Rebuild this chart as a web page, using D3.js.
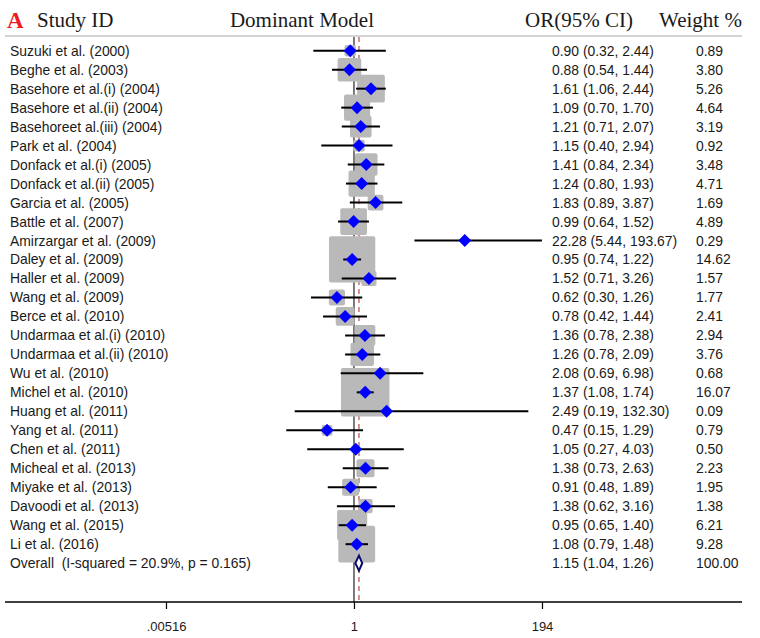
<!DOCTYPE html>
<html lang="en">
<head>
<meta charset="utf-8">
<script src="https://cdn.jsdelivr.net/npm/d3@7"></script>
<style>
body{margin:0;background:#fff;}
svg{display:block;}
</style>
</head>
<body>
<div id="chart"></div>
<script>
// study rows, top to bottom
const studies = ["Suzuki et al. (2000)","Beghe et al. (2003)","Basehore et al.(i) (2004)","Basehore et al.(ii) (2004)",
"Basehoreet al.(iii) (2004)","Park et al. (2004)","Donfack et al.(i) (2005)","Donfack et al.(ii) (2005)",
"Garcia et al. (2005)","Battle et al. (2007)","Amirzargar et al. (2009)","Daley et al. (2009)","Haller et al. (2009)",
"Wang et al. (2009)","Berce et al. (2010)","Undarmaa et al.(i) (2010)","Undarmaa et al.(ii) (2010)","Wu et al. (2010)",
"Michel et al. (2010)","Huang et al. (2011)","Yang et al. (2011)","Chen et al. (2011)","Micheal et al. (2013)",
"Miyake et al. (2013)","Davoodi et al. (2013)","Wang et al. (2015)","Li et al. (2016)"]
const or = [0.90,0.88,1.61,1.09,1.21,1.15,1.41,1.24,1.83,0.99,22.28,0.95,1.52,0.62,0.78,1.36,1.26,2.08,1.37,2.49,0.47,1.05,1.38,0.91,1.38,0.95,1.08]
const lo = [0.32,0.54,1.06,0.70,0.71,0.40,0.84,0.80,0.89,0.64,5.44,0.74,0.71,0.30,0.42,0.78,0.78,0.69,1.08,0.19,0.15,0.27,0.73,0.48,0.62,0.65,0.79]
const hi = [2.44,1.44,2.44,1.70,2.07,2.94,2.34,1.93,3.87,1.52,193.67,1.22,3.26,1.26,1.44,2.38,2.09,6.98,1.74,132.30,1.29,4.03,2.63,1.89,3.16,1.40,1.48]
const weight = [0.89,3.80,5.26,4.64,3.19,0.92,3.48,4.71,1.69,4.89,0.29,14.62,1.57,1.77,2.41,2.94,3.76,0.68,16.07,0.09,0.79,0.50,2.23,1.95,1.38,6.21,9.28]
const overall = {label:"Overall  (I-squared = 20.9%, p = 0.165)", or:1.15, lo:1.04, hi:1.26, weight:100.00}
const tickVals = [0.00516, 1, 194]
const tickLabels = [".00516", "1", "194"]

const W = 760, H = 638
const svg = d3.select("#chart").append("svg").attr("width", W).attr("height", H)

const x = d3.scaleLog().domain([0.00516, 194]).range([166, 542])
const nRows = studies.length + 1
const y = d3.scaleLinear().domain([0, nRows - 1]).range([50.7, 50.7 + 18.98 * (nRows - 1)])
const boxK = 12.1
const fmt = d3.format(".2f")

// header
svg.append("text").attr("x", 7).attr("y", 28).text("A")
  .style("font-family", "Liberation Serif").style("font-weight", "bold").style("font-size", "23px").style("fill", "#ec1c24")
const hdr = [["Study ID", 37, "start"], ["Dominant Model", 302, "middle"], ["OR(95% CI)", 525, "start"], ["Weight %", 659, "start"]]
svg.selectAll("text.hdr").data(hdr).join("text").attr("class", "hdr")
  .attr("x", d => d[1]).attr("y", 27).attr("text-anchor", d => d[2]).text(d => d[0])
  .style("font-family", "Liberation Serif").style("font-size", "21px").style("fill", "#1a1a1a")
svg.append("line").attr("x1", 5).attr("x2", 742).attr("y1", 36).attr("y2", 36)
  .attr("stroke", "#c4c4c4").attr("stroke-width", 1.5)

// reference lines
const yAxis = 602
svg.append("line").attr("x1", x(1)).attr("x2", x(1)).attr("y1", 37).attr("y2", yAxis)
  .attr("stroke", "#333").attr("stroke-width", 1.3)
svg.append("line").attr("x1", x(overall.or)).attr("x2", x(overall.or)).attr("y1", 37).attr("y2", yAxis)
  .attr("stroke", "#b22222").attr("stroke-width", 1).attr("stroke-dasharray", "5,4")

const rows = studies.map((s, i) => ({s, or: or[i], lo: lo[i], hi: hi[i], w: weight[i], i}))

// weight boxes
svg.append("g").selectAll("rect").data(rows).join("rect")
  .attr("x", d => x(d.or) - boxK * Math.sqrt(d.w) / 2)
  .attr("y", d => y(d.i) - boxK * Math.sqrt(d.w) / 2)
  .attr("width", d => boxK * Math.sqrt(d.w))
  .attr("height", d => boxK * Math.sqrt(d.w))
  .attr("rx", 2).attr("fill", "#b9b9b9")

// CIs
svg.append("g").selectAll("line").data(rows).join("line")
  .attr("x1", d => x(d.lo)).attr("x2", d => x(d.hi))
  .attr("y1", d => y(d.i)).attr("y2", d => y(d.i))
  .attr("stroke", "#000").attr("stroke-width", 2)

// point estimates
const dm = 6.5
svg.append("g").selectAll("path").data(rows).join("path")
  .attr("d", d => {
    const cx = x(d.or), cy = y(d.i)
    return `M${cx - dm},${cy}L${cx},${cy - dm}L${cx + dm},${cy}L${cx},${cy + dm}Z`
  })
  .attr("fill", "#0000ff")

// overall diamond
const oy = y(nRows - 1)
svg.append("path")
  .attr("d", `M${x(overall.lo)},${oy}L${x(overall.or)},${oy - 7.5}L${x(overall.hi)},${oy}L${x(overall.or)},${oy + 7.5}Z`)
  .attr("fill", "#fff").attr("stroke", "#0a0a6e").attr("stroke-width", 2)

// text columns
const labelFont = "Liberation Sans"
const allRows = rows.concat([{s: overall.label, or: overall.or, lo: overall.lo, hi: overall.hi, w: overall.weight, i: nRows - 1}])
svg.append("g").selectAll("text").data(allRows).join("text")
  .attr("x", 10).attr("y", d => y(d.i) + 5).text(d => d.s)
  .attr("xml:space", "preserve").style("white-space", "pre")
  .style("font-family", labelFont).style("font-size", "13.9px").style("fill", "#1a1a1a")
svg.append("g").selectAll("text").data(allRows).join("text")
  .attr("x", 552).attr("y", d => y(d.i) + 5)
  .text(d => `${fmt(d.or)} (${fmt(d.lo)}, ${fmt(d.hi)})`)
  .style("font-family", labelFont).style("font-size", "13.9px").style("fill", "#1a1a1a")
svg.append("g").selectAll("text").data(allRows).join("text")
  .attr("x", 696).attr("y", d => y(d.i) + 5).text(d => fmt(d.w))
  .style("font-family", labelFont).style("font-size", "13.9px").style("fill", "#1a1a1a")

// x axis
svg.append("line").attr("x1", 5).attr("x2", 742).attr("y1", yAxis).attr("y2", yAxis)
  .attr("stroke", "#000").attr("stroke-width", 1.3)
const axis = d3.axisBottom(x).tickValues(tickVals).tickSize(7).tickPadding(12.5)
  .tickFormat((d, i) => tickLabels[i])
const ga = svg.append("g").attr("transform", `translate(0,${yAxis})`).call(axis)
ga.select(".domain").remove()
ga.selectAll("line").attr("stroke", "#000").attr("stroke-width", 1.2)
ga.selectAll("text").style("font-family", labelFont).style("font-size", "13px").style("fill", "#1a1a1a")
</script>
</body>
</html>
